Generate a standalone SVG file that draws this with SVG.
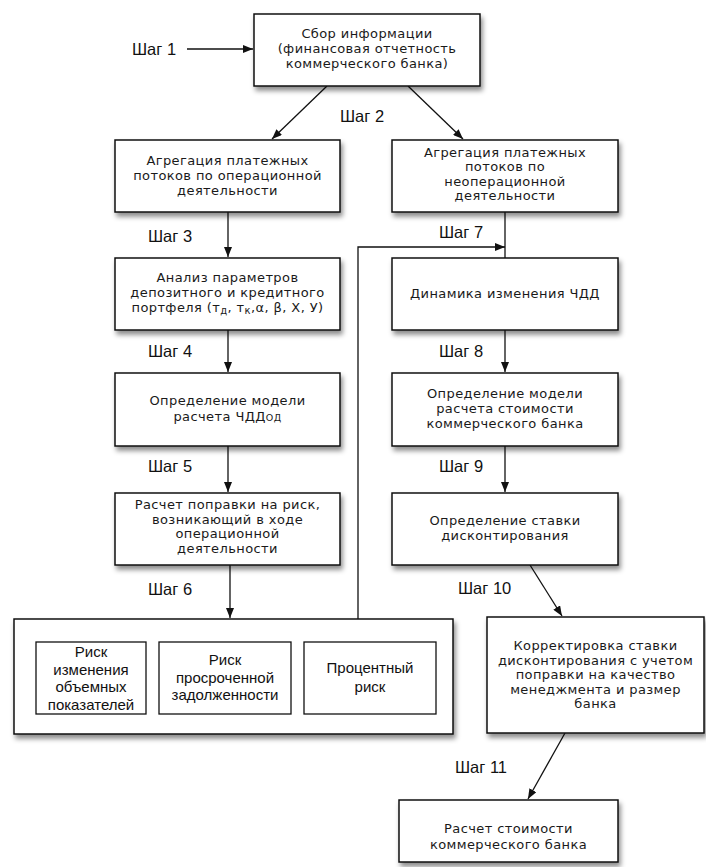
<svg xmlns="http://www.w3.org/2000/svg" width="706" height="867" viewBox="0 0 706 867">
<style>
.box{fill:#fff;stroke:#111;stroke-width:1.5;filter:url(#sh)}
.ibox{fill:#fff;stroke:#111;stroke-width:1.3}
.t{font-family:"DejaVu Sans","Liberation Sans",sans-serif;font-size:13px;letter-spacing:0.4px;fill:#1a1a1a;text-anchor:middle}
.r{font-family:"Liberation Sans",Arial,sans-serif;font-size:15px;fill:#111;text-anchor:middle}
.s{font-family:"Liberation Sans",Arial,sans-serif;font-size:16.5px;fill:#111}
.c{stroke:#111;stroke-width:1.3;fill:none}
.ca{stroke:#111;stroke-width:1.3;fill:none;marker-end:url(#ah)}
</style>
<defs>
<filter id="sh" x="-10%" y="-10%" width="125%" height="135%">
<feDropShadow dx="2" dy="4" stdDeviation="2.5" flood-color="#000" flood-opacity="0.45"/>
</filter>
<marker id="ah" viewBox="0 0 10 8" refX="10" refY="4" markerWidth="10" markerHeight="8" markerUnits="userSpaceOnUse" orient="auto">
<path d="M0,0 L10,4 L0,8 Z" fill="#111"/>
</marker>
</defs>
<rect width="706" height="867" fill="#fff"/>

<g id="labels">
<text class="s" x="132" y="55">Шаг 1</text>
<text class="s" x="340" y="122">Шаг 2</text>
<text class="s" x="148" y="242">Шаг 3</text>
<text class="s" x="148" y="357">Шаг 4</text>
<text class="s" x="148" y="472">Шаг 5</text>
<text class="s" x="148" y="595">Шаг 6</text>
<text class="s" x="439" y="238">Шаг 7</text>
<text class="s" x="439" y="357">Шаг 8</text>
<text class="s" x="439" y="472">Шаг 9</text>
<text class="s" x="458" y="594">Шаг 10</text>
<text class="s" x="455" y="773">Шаг 11</text>
</g>

<g id="connectors">
<line class="ca" x1="187" y1="49" x2="253" y2="49"/>
<line class="ca" x1="327" y1="86" x2="272" y2="139"/>
<line class="ca" x1="408" y1="86" x2="463" y2="139"/>
<line class="ca" x1="228" y1="212" x2="228" y2="257"/>
<line class="ca" x1="228" y1="330" x2="228" y2="372"/>
<line class="ca" x1="228" y1="446" x2="228" y2="492"/>
<line class="ca" x1="230" y1="565" x2="230" y2="618"/>
<line class="c" x1="505" y1="212" x2="505" y2="258"/>
<polyline class="ca" points="358,619 358,247 505,247"/>
<line class="ca" x1="505" y1="330" x2="505" y2="372"/>
<line class="ca" x1="505" y1="446" x2="505" y2="492"/>
<line class="ca" x1="530" y1="565" x2="562" y2="616"/>
<line class="ca" x1="565" y1="733" x2="528" y2="799"/>
</g>

<g id="n1">
<rect class="box" x="254" y="14" width="226" height="72"/>
<text class="t" x="367" y="38">Сбор информации</text>
<text class="t" x="367" y="53">(финансовая отчетность</text>
<text class="t" x="367" y="68">коммерческого банка)</text>
</g>

<g id="n2">
<rect class="box" x="115" y="140" width="225" height="72"/>
<text class="t" x="227.5" y="165">Агрегация платежных</text>
<text class="t" x="227.5" y="180">потоков по операционной</text>
<text class="t" x="227.5" y="195">деятельности</text>
</g>

<g id="n7">
<rect class="box" x="392" y="140" width="226" height="72"/>
<text class="t" x="505" y="156.5">Агрегация платежных</text>
<text class="t" x="505" y="171">потоков по</text>
<text class="t" x="505" y="185.5">неоперационной</text>
<text class="t" x="505" y="200">деятельности</text>
</g>

<g id="n3">
<rect class="box" x="115" y="258" width="225" height="72"/>
<text class="t" x="227.5" y="282">Анализ параметров</text>
<text class="t" x="227.5" y="297">депозитного и кредитного</text>
<text class="t" x="227.5" y="312">портфеля (т<tspan font-size="10" dy="2">д</tspan><tspan dy="-2">, т</tspan><tspan font-size="10" dy="2">к</tspan><tspan dy="-2">,α, β, Х, У)</tspan></text>
</g>

<g id="n8">
<rect class="box" x="392" y="258" width="226" height="72"/>
<text class="t" x="505" y="298">Динамика изменения ЧДД</text>
</g>

<g id="n4">
<rect class="box" x="115" y="373" width="225" height="73"/>
<text class="t" x="227.5" y="405">Определение модели</text>
<text class="t" x="227.5" y="421">расчета ЧДД<tspan font-size="9.5">ОД</tspan></text>
</g>

<g id="n9">
<rect class="box" x="392" y="373" width="226" height="73"/>
<text class="t" x="505" y="398">Определение модели</text>
<text class="t" x="505" y="413">расчета стоимости</text>
<text class="t" x="505" y="428">коммерческого банка</text>
</g>

<g id="n5">
<rect class="box" x="115" y="493" width="225" height="72"/>
<text class="t" x="227.5" y="509">Расчет поправки на риск,</text>
<text class="t" x="227.5" y="523.5">возникающий в ходе</text>
<text class="t" x="227.5" y="538">операционной</text>
<text class="t" x="227.5" y="552.5">деятельности</text>
</g>

<g id="n10">
<rect class="box" x="392" y="493" width="226" height="72"/>
<text class="t" x="505" y="525">Определение ставки</text>
<text class="t" x="505" y="539.5">дисконтирования</text>
</g>

<g id="n6">
<rect class="box" x="14" y="619" width="439" height="115"/>
<rect class="ibox" x="36" y="642" width="110" height="72"/>
<text class="r" x="91" y="657">Риск</text>
<text class="r" x="91" y="675">изменения</text>
<text class="r" x="91" y="692">объемных</text>
<text class="r" x="91" y="710">показателей</text>
<rect class="ibox" x="159" y="642" width="132" height="72"/>
<text class="r" x="225" y="665">Риск</text>
<text class="r" x="225" y="683">просроченной</text>
<text class="r" x="225" y="700">задолженности</text>
<rect class="ibox" x="304" y="642" width="132" height="72"/>
<text class="r" x="370" y="673">Процентный</text>
<text class="r" x="370" y="692">риск</text>
</g>

<g id="n11">
<rect class="box" x="487" y="617" width="217" height="116"/>
<text class="t" x="595.5" y="650">Корректировка ставки</text>
<text class="t" x="595.5" y="664.5">дисконтирования с учетом</text>
<text class="t" x="595.5" y="679">поправки на качество</text>
<text class="t" x="595.5" y="693.5">менеджмента и размер</text>
<text class="t" x="595.5" y="708">банка</text>
</g>

<g id="n12">
<rect class="box" x="399" y="800" width="219" height="62"/>
<text class="t" x="508.5" y="833">Расчет стоимости</text>
<text class="t" x="508.5" y="849">коммерческого банка</text>
</g>
</svg>
